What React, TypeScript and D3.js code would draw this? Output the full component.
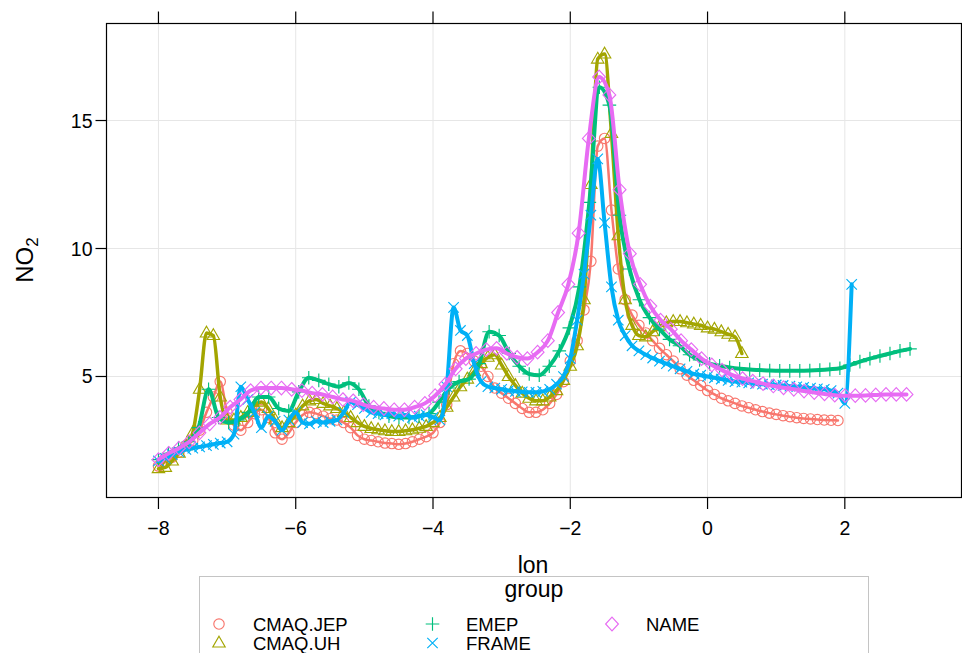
import React from 'react';
import * as d3 from 'd3';

// ---------- data ----------
const groups = ['CMAQ.JEP', 'CMAQ.UH', 'EMEP', 'FRAME', 'NAME'];
const colors = ['#F8766D', '#A3A500', '#00BF7D', '#00B0F6', '#E76BF3'];
const shapes = ['circle', 'triangle', 'plus', 'cross', 'diamond'];

const xTicks = [-8, -6, -4, -2, 0, 2];
const yTicks = [5, 10, 15];

// CMAQ.JEP: lon grid -8.0 .. 1.9, step 0.1
const jepStart = -8.0;
const jepStep = 0.1;
const jepNO2 = [
  1.5, 1.65, 1.85, 2.05, 2.3, 2.5, 2.9, 3.6, 4.2, 4.8, 3.6,
  3.1, 2.9, 3.2, 3.55, 3.7, 3.4, 2.8, 2.55, 2.8, 3.2,
  3.5, 3.6, 3.55, 3.45, 3.35, 3.3, 3.2, 3.0, 2.7, 2.55,
  2.5, 2.45, 2.4, 2.38, 2.35, 2.38, 2.45, 2.55, 2.65, 2.8,
  3.2, 3.9, 5.5, 6.0, 5.9, 5.6, 5.4, 5.0, 4.55, 4.35,
  4.15, 3.95, 3.75, 3.6, 3.6, 3.7, 3.95, 4.3, 4.8, 5.6,
  6.4, 7.6, 9.5, 14.0, 14.3, 11.5, 9.2, 8.0, 7.4, 7.0,
  6.7, 6.4, 6.1, 5.85, 5.6, 5.3, 5.05, 4.85, 4.65, 4.45,
  4.3, 4.15, 4.05, 3.95, 3.85, 3.78, 3.7, 3.63, 3.57, 3.52,
  3.47, 3.43, 3.39, 3.36, 3.34, 3.32, 3.3, 3.29, 3.28,
];

// CMAQ.UH: lon grid -8.0 .. 0.5, step 0.1
const uhStart = -8.0;
const uhStep = 0.1;
const uhNO2 = [
  1.4, 1.45, 1.7, 2.0, 2.3, 2.8, 4.5, 6.7, 6.6, 4.2, 3.3,
  3.3, 3.4, 3.6, 3.85, 4.0, 3.75, 3.3, 3.0, 3.2, 3.5,
  3.85, 4.05, 4.1, 3.95, 3.85, 3.75, 3.6, 3.4, 3.2, 3.05,
  2.97, 2.92, 2.88, 2.85, 2.85, 2.88, 2.92, 2.98, 3.05, 3.2,
  3.4, 3.8, 4.2, 4.6, 4.9, 5.2, 5.5, 5.75, 5.85, 5.45,
  5.0, 4.65, 4.35, 4.15, 4.05, 4.05, 4.2, 4.45, 4.85, 5.4,
  6.2, 8.0, 12.5, 17.4, 17.6, 14.5, 10.5, 8.0, 7.0, 6.6,
  6.55, 6.75, 6.95, 7.1, 7.15, 7.15, 7.1, 7.05, 7.0, 6.9,
  6.85, 6.75, 6.65, 6.55, 5.9,
];

// EMEP: lon grid -8.0 .. 2.95, step 0.146
const emepStart = -8.0;
const emepStep = 0.146;
const emepNO2 = [
  1.75, 2.0, 2.2, 2.45, 3.0, 4.5, 3.4, 3.2, 3.3, 3.6,
  4.2, 4.2, 3.75, 3.65, 4.4, 4.95, 4.85, 4.7, 4.6, 4.75,
  4.5, 3.85, 3.6, 3.45, 3.4, 3.4, 3.45, 3.55, 4.0, 4.55,
  4.8, 4.9, 5.5, 6.75, 6.6, 5.9, 5.4, 5.1, 5.05, 5.4,
  6.0, 6.9, 8.5, 11.8, 16.3, 15.6, 11.3, 9.2, 8.0, 7.3,
  6.85, 6.45, 6.2, 5.85, 5.65, 5.5, 5.42, 5.35, 5.3, 5.27,
  5.25, 5.23, 5.22, 5.22, 5.22, 5.23, 5.25, 5.28, 5.32, 5.45,
  5.58, 5.7, 5.8, 5.9, 6.0, 6.08,
];

// FRAME: lon grid -8.0 .. 2.1, step 0.1
const frameStart = -8.0;
const frameStep = 0.1;
const frameNO2 = [
  1.7, 1.8, 1.95, 2.05, 2.15, 2.2, 2.25, 2.3, 2.35, 2.4, 2.45,
  2.75, 4.6, 4.1, 3.6, 3.0, 3.45, 3.25, 2.9, 3.3, 3.6,
  3.2, 3.15, 3.25, 3.2, 3.25, 3.3, 3.6, 4.0, 3.9, 3.75,
  3.6, 3.55, 3.5, 3.55, 3.45, 3.5, 3.4, 3.45, 3.5, 3.4,
  3.3, 4.6, 7.7, 6.8, 6.6, 5.5, 4.8, 4.6, 4.55, 4.5,
  4.45, 4.42, 4.4, 4.38, 4.38, 4.42, 4.5, 4.7, 5.0, 5.7,
  7.2, 9.0, 11.3, 13.5, 11.0, 8.5, 7.2, 6.6, 6.2, 6.0,
  5.85, 5.72, 5.6, 5.5, 5.4, 5.3, 5.2, 5.1, 5.05, 5.0,
  4.95, 4.9, 4.85, 4.8, 4.78, 4.75, 4.72, 4.7, 4.68, 4.67,
  4.65, 4.62, 4.6, 4.58, 4.55, 4.52, 4.5, 4.45, 4.35, 3.95, 8.6,
];

// NAME: lon grid -8.0 .. 2.9, step 0.1493
const nameStart = -8.0;
const nameStep = 0.1493;
const nameNO2 = [
  1.75, 2.0, 2.2, 2.45, 2.8, 3.15, 3.4, 3.8, 4.1, 4.45,
  4.55, 4.55, 4.55, 4.5, 4.45, 4.35, 4.3, 4.2, 4.1, 4.05,
  3.9, 3.8, 3.75, 3.7, 3.7, 3.8, 3.95, 4.25, 4.7, 5.3,
  5.7, 5.9, 6.05, 6.1, 5.9, 5.75, 5.7, 5.95, 6.4, 7.5,
  8.6, 10.6, 14.3, 16.7, 16.0, 12.3, 9.8, 8.6, 7.75, 7.2,
  6.85, 6.4, 6.05, 5.7, 5.45, 5.25, 5.05, 4.92, 4.82, 4.72,
  4.63, 4.56, 4.5, 4.43, 4.37, 4.32, 4.27, 4.25, 4.25, 4.26,
  4.28, 4.3, 4.3, 4.3,
];

const seriesDefs = [
  { start: jepStart, step: jepStep, values: jepNO2, lw: 2.5 },
  { start: uhStart, step: uhStep, values: uhNO2, lw: 3.5 },
  { start: emepStart, step: emepStep, values: emepNO2, lw: 4 },
  { start: frameStart, step: frameStep, values: frameNO2, lw: 4 },
  { start: nameStart, step: nameStep, values: nameNO2, lw: 4 },
];

// ---------- layout ----------
const W = 962;
const H = 653;
const P = { left: 106.5, right: 961.5, top: 23.5, bottom: 497.5 };
const FONT = '"Liberation Sans", Arial, Helvetica, sans-serif';

const x = d3.scaleLinear().domain([-8.757, 3.7]).range([P.left, P.right]);
const y = d3.scaleLinear().domain([0.273, 18.79]).range([P.bottom, P.top]);

function Marker({ shape, cx, cy, color }: { shape: string; cx: number; cy: number; color: string }) {
  const common = { fill: 'none', stroke: color, strokeWidth: 1.15 };
  if (shape === 'circle') return <circle cx={cx} cy={cy} r={5.2} {...common} />;
  let d = '';
  if (shape === 'triangle') d = 'M0,-6.8L6.2,4L-6.2,4Z';
  else if (shape === 'plus') d = 'M-6.8,0H6.8M0,-6.8V6.8';
  else if (shape === 'cross') d = 'M-5.2,-5.2L5.2,5.2M-5.2,5.2L5.2,-5.2';
  else d = 'M0,-6.8L6.4,0L0,6.8L-6.4,0Z';
  return <path d={d} transform={`translate(${cx},${cy})`} {...common} />;
}

export default function App() {
  const line = d3
    .line<[number, number]>()
    .x((d) => x(d[0]))
    .y((d) => y(d[1]))
    .curve(d3.curveMonotoneX);

  const series = seriesDefs.map((s) =>
    s.values.map((v, i) => [s.start + i * s.step, v] as [number, number])
  );

  const legendItems = [
    { g: 0, cx: 219, cy: 624, tx: 253 },
    { g: 1, cx: 219, cy: 643, tx: 253 },
    { g: 2, cx: 432.5, cy: 624, tx: 466 },
    { g: 3, cx: 432.5, cy: 643, tx: 466 },
    { g: 4, cx: 612, cy: 624, tx: 646 },
  ];

  return (
    <svg
      width={W}
      height={H}
      style={{ position: 'absolute', left: 0, top: 0, background: '#fff' }}
      fontFamily={FONT}
    >
      <rect x={0} y={0} width={W} height={H} fill="#fff" />
      {/* grid */}
      {xTicks.map((t) => (
        <line key={'gx' + t} x1={x(t)} x2={x(t)} y1={P.top} y2={P.bottom} stroke="#e6e6e6" strokeWidth={1} />
      ))}
      {yTicks.map((t) => (
        <line key={'gy' + t} x1={P.left} x2={P.right} y1={y(t)} y2={y(t)} stroke="#e6e6e6" strokeWidth={1} />
      ))}

      {/* series */}
      {series.map((pts, gi) => (
        <g key={groups[gi]}>
          {pts.map((p, i) => (
            <Marker key={i} shape={shapes[gi]} cx={x(p[0])} cy={y(p[1])} color={colors[gi]} />
          ))}
          <path
            d={line(pts) || ''}
            fill="none"
            stroke={colors[gi]}
            strokeWidth={seriesDefs[gi].lw}
            strokeLinejoin="round"
            strokeLinecap="round"
          />
        </g>
      ))}

      {/* panel border */}
      <rect
        x={P.left}
        y={P.top}
        width={P.right - P.left}
        height={P.bottom - P.top}
        fill="none"
        stroke="#000"
        strokeWidth={1.2}
      />

      {/* ticks */}
      {xTicks.map((t) => (
        <g key={'tx' + t}>
          <line x1={x(t)} x2={x(t)} y1={P.top - 12} y2={P.top} stroke="#000" strokeWidth={1.2} />
          <line x1={x(t)} x2={x(t)} y1={P.bottom} y2={P.bottom + 11.5} stroke="#000" strokeWidth={1.2} />
          <text x={x(t)} y={535} textAnchor="middle" fontSize={19.5} fill="#000">
            {t < 0 ? '\u2212' + Math.abs(t) : String(t)}
          </text>
        </g>
      ))}
      {yTicks.map((t) => (
        <g key={'ty' + t}>
          <line x1={P.left - 11} x2={P.left} y1={y(t)} y2={y(t)} stroke="#000" strokeWidth={1.2} />
          <text x={P.left - 14} y={y(t) + 7} textAnchor="end" fontSize={19.5} fill="#000">
            {t}
          </text>
        </g>
      ))}

      {/* axis titles */}
      <text x={533} y={573} textAnchor="middle" fontSize={23} fill="#000">
        lon
      </text>
      <g transform="translate(33,260) rotate(-90)">
        <text x={0} y={0} textAnchor="middle" fontSize={24} fill="#000">
          NO<tspan fontSize={17} dy={5}>2</tspan>
        </text>
      </g>

      {/* legend */}
      <rect x={199.5} y={576.5} width={669} height={120} fill="#fff" stroke="#c4c4c4" strokeWidth={1} />
      <text x={534} y={597} textAnchor="middle" fontSize={23} fill="#000">
        group
      </text>
      {legendItems.map((it) => (
        <g key={'lg' + it.g}>
          <Marker shape={shapes[it.g]} cx={it.cx} cy={it.cy} color={colors[it.g]} />
          <text x={it.tx} y={it.cy + 6.5} fontSize={18.5} fill="#000">
            {groups[it.g]}
          </text>
        </g>
      ))}
    </svg>
  );
}
